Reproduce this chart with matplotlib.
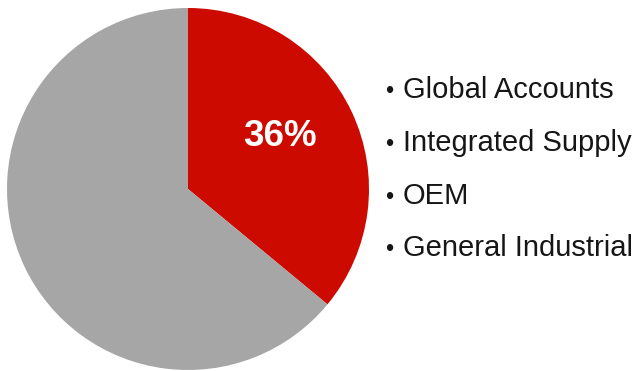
import matplotlib.pyplot as plt

# share of sales by channel; only the highlighted slice is labelled
shares = [36, 64]
slice_colors = ['#cc0a00', '#a6a6a6']
channels = ['Global Accounts', 'Integrated Supply', 'OEM', 'General Industrial']

plt.rcParams['font.family'] = ['Liberation Sans', 'DejaVu Sans']

W, H = 639, 371
fig = plt.figure(figsize=(W / 100, H / 100), dpi=100)

# pie axes placed in pixel terms: circle spans x 7..369, y 8..370 (from top)
ax = fig.add_axes([7 / W, 1 / H, 362 / W, 362 / H])
wedges, _, pct = ax.pie(
    shares, colors=slice_colors, startangle=90, counterclock=False,
    autopct=lambda p: f'{p:.0f}%' if p < 50 else '',
    pctdistance=0.6, wedgeprops=dict(linewidth=0),
)
pct[0].set_color('white')
pct[0].set_fontsize(26.5)
pct[0].set_fontweight('bold')
pct[0].set_position((0.51, 0.29))
ax.set_xlim(-1, 1)
ax.set_ylim(-1, 1)
ax.set_aspect('equal')

# bulleted channel list on the right
baselines = [98, 151, 204, 256]
for name, yb in zip(channels, baselines):
    fig.text(385 / W, 1 - yb / H, '\u2022', fontsize=17, color='#161616',
             va='baseline', ha='left')
    fig.text(403 / W, 1 - yb / H, name, fontsize=21, color='#161616',
             va='baseline', ha='left')

fig.savefig('out.png', dpi=100)
